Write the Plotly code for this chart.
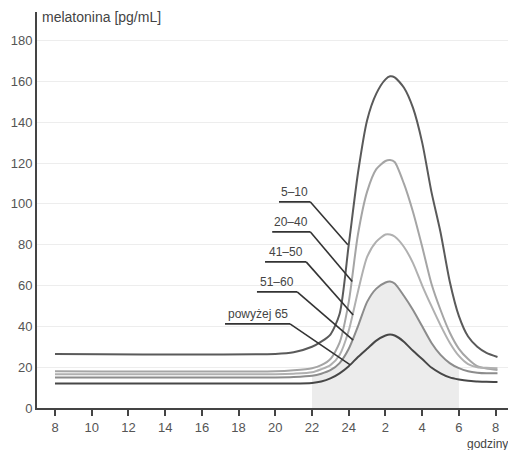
import plotly.graph_objects as go

# hours (8 = 8:00, 26 = 2:00 next day, 32 = 8:00 next day)
hours = [8, 20, 21, 22, 22.5, 23, 23.5, 24, 24.5, 25, 25.5, 26, 26.25, 26.5,
         27, 27.5, 28, 28.5, 29, 29.5, 30, 30.5, 31, 31.5, 32.1]

groups = ["5–10", "20–40", "41–50", "51–60", "powyżej 65"]
mel_5_10 = [26.5, 26.5, 27.3, 30, 32.5, 36, 46, 80, 115, 141, 154, 161, 162.5, 162,
            157, 147, 130, 106, 86, 62, 45, 35, 30, 27, 25]
mel_20_40 = [18, 18, 18.5, 19.5, 21, 24, 32, 52, 85, 106, 117, 121, 121.5, 120.5,
             110, 96, 79, 61, 48, 37, 29, 24, 20.5, 19.3, 18.6]
mel_41_50 = [16.5, 16.5, 16.8, 17.5, 19, 21, 26, 38, 57, 74, 81.5, 85, 85, 84,
             79, 71, 60, 50, 40.5, 32, 25.5, 21.5, 20, 19.7, 19.5]
mel_51_60 = [15, 15, 15.2, 15.8, 16.8, 18.5, 22, 29, 40, 52, 58.5, 61.5, 62, 61,
             55, 48, 40, 32, 26, 22, 19.5, 18, 17.3, 17, 17]
mel_65 = [12, 12, 12, 12.3, 13, 14.5, 17, 20.5, 25, 29, 33, 35.5, 36, 35.5,
          32.5, 28, 24, 19.8, 17, 15, 14, 13.3, 13, 12.8, 12.7]
series = [mel_5_10, mel_20_40, mel_41_50, mel_51_60, mel_65]

tick_vals = [8, 10, 12, 14, 16, 18, 20, 22, 24, 26, 28, 30, 32]
tick_text = ["8", "10", "12", "14", "16", "18", "20", "22", "24", "2", "4", "6", "8"]
y_ticks = [0, 20, 40, 60, 80, 100, 120, 140, 160, 180]
night_start, night_end = 22, 30

colors = ["#5a5a5a", "#a5a5a5", "#b0b0b0", "#8c8c8c", "#474747"]

# label placement: (underline x0, underline x1, underline y, leader end x, leader end y)
label_pos = [
    (20.2, 21.9, 101, 23.95, 80),
    (19.83, 21.9, 86.3, 24.19, 62),
    (19.44, 21.68, 71.6, 24.24, 45.6),
    (19.0, 21.19, 56.9, 24.24, 33.3),
    (17.26, 20.8, 41.2, 24.08, 21.1),
]

fig = go.Figure()

# shaded night area under the 51-60 curve
nx = [h for h in hours if night_start <= h <= night_end]
ny = [v for h, v in zip(hours, mel_51_60) if night_start <= h <= night_end]
fig.add_trace(go.Scatter(x=nx, y=ny, mode="lines", fill="tozeroy",
                         fillcolor="#ececec", line=dict(width=0, shape="spline", smoothing=0.7),
                         hoverinfo="skip", showlegend=False))

for name, vals, col in zip(groups, series, colors):
    fig.add_trace(go.Scatter(x=hours, y=vals, mode="lines", name=name,
                             line=dict(color=col, width=2, shape="spline", smoothing=0.7),
                             showlegend=False))

for name, (x0, x1, yu, xe, ye) in zip(groups, label_pos):
    fig.add_shape(type="line", x0=x0, x1=x1, y0=yu, y1=yu, xref="x", yref="y",
                  line=dict(color="#333333", width=1.6))
    fig.add_shape(type="line", x0=x1, x1=xe, y0=yu, y1=ye, xref="x", yref="y",
                  line=dict(color="#333333", width=1.6))
    fig.add_annotation(x=(x0 + x1) / 2, y=yu, text=name, showarrow=False,
                       yanchor="bottom", yshift=1, xref="x", yref="y",
                       font=dict(size=12, color="#444444"))

fig.add_annotation(x=0, xref="paper", y=1, yref="paper", xanchor="left", yanchor="bottom",
                   xshift=3, yshift=-15, text="melatonina [pg/mL]", showarrow=False,
                   font=dict(size=14, color="#444444"))
fig.add_annotation(x=1, xref="paper", y=0, yref="paper", xanchor="right", yanchor="top",
                   xshift=-4, yshift=-27, text="godziny", showarrow=False,
                   font=dict(size=12, color="#444444"))

fig.update_xaxes(range=[7.02, 33.0], tickvals=tick_vals, ticktext=tick_text,
                 showline=True, linecolor="#444444", linewidth=2,
                 ticks="outside", ticklen=6, tickwidth=1.5, tickcolor="#444444",
                 showgrid=False, zeroline=False,
                 tickfont=dict(size=13, color="#555555"))
fig.update_yaxes(range=[0, 194], tickvals=y_ticks,
                 showline=True, linecolor="#444444", linewidth=2, ticks="",
                 showgrid=True, gridcolor="#ededed", gridwidth=1, zeroline=False,
                 tickfont=dict(size=13, color="#555555"))

# page body adds an 8px offset, so the figure is sized to land on the same pixels
fig.update_layout(width=508, height=442, margin=dict(l=29, r=2, t=4, b=42),
                  plot_bgcolor="white", paper_bgcolor="white",
                  font=dict(family="Liberation Sans, Arial, sans-serif"))

fig.write_html("out.html")
